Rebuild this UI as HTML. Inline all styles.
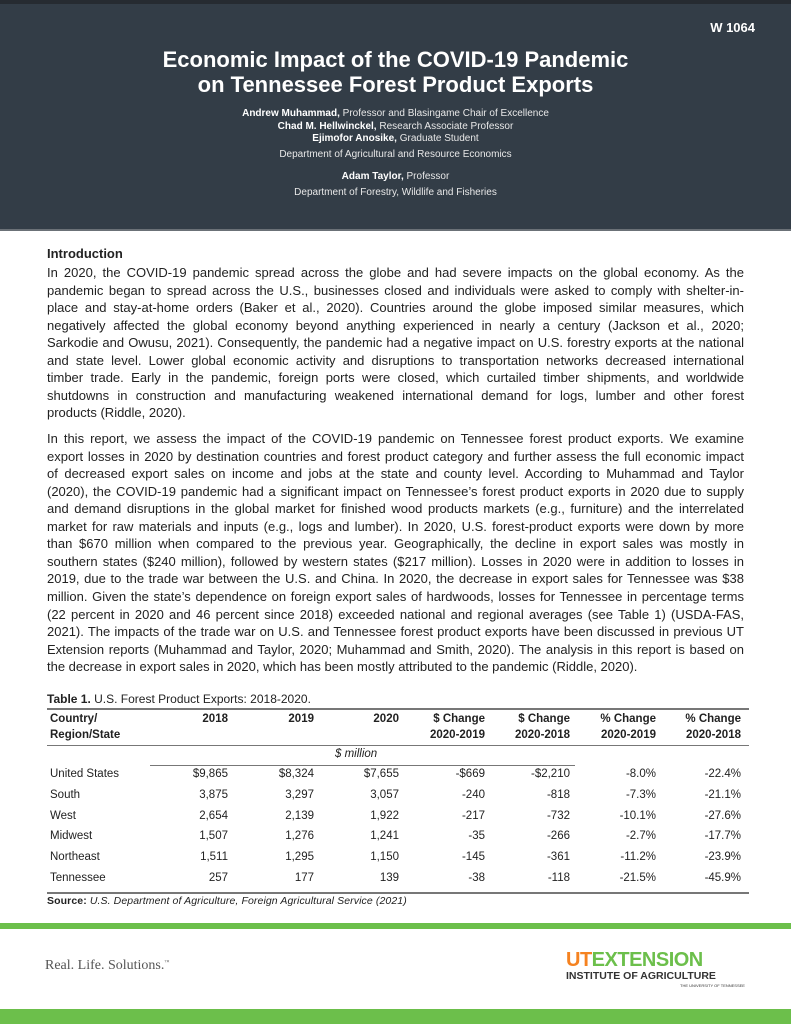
<!DOCTYPE html>
<html><head><meta charset="utf-8"><style>
*{margin:0;padding:0;box-sizing:border-box}
body{width:791px;height:1024px;position:relative;background:#fff;font-family:"Liberation Sans",sans-serif;color:#222;overflow:hidden}
.hdr{position:absolute;left:0;top:0;width:791px;height:231px;background:#333d47;border-top:4px solid #262b31;border-bottom:2px solid #6b7177}
.c{position:absolute;left:0;width:791px;text-align:center;color:#fff;white-space:nowrap}
.l{position:absolute;left:47px;white-space:nowrap;font-size:13px;letter-spacing:0;color:#222}
.j{width:697px;text-align:justify;text-align-last:justify}
.t{position:absolute;font-size:11.5px;white-space:nowrap;color:#222}
.r{text-align:right}
.rule{position:absolute;background:#777}
</style></head><body>
<div class="hdr"></div>
<div class="c" style="top:20px;left:auto;right:36px;width:auto;font-size:13px;font-weight:bold">W 1064</div>
<div class="c" style="top:47px;font-size:22px;font-weight:bold;line-height:25px">Economic Impact of the COVID-19 Pandemic<br>on Tennessee Forest Product Exports</div>
<div class="c" style="top:108px;font-size:10px;line-height:12.7px;color:#e8e8e8"><b style="color:#fff">Andrew Muhammad,</b> Professor and Blasingame Chair of Excellence<br><b style="color:#fff">Chad M. Hellwinckel,</b> Research Associate Professor<br><b style="color:#fff">Ejimofor Anosike,</b> Graduate Student</div>
<div class="c" style="top:149px;font-size:10px;color:#e8e8e8">Department of Agricultural and Resource Economics</div>
<div class="c" style="top:171px;font-size:10px;color:#e8e8e8"><b style="color:#fff">Adam Taylor,</b> Professor</div>
<div class="c" style="top:187px;font-size:10px;color:#e8e8e8">Department of Forestry, Wildlife and Fisheries</div>

<div class="l" style="top:246px;font-weight:bold">Introduction</div>
<div id="p1"></div>
<div id="p2"></div>

<div class="l" style="top:692px;font-size:12px"><b>Table 1.</b> U.S. Forest Product Exports: 2018-2020.</div>
<div class="rule" style="left:47px;top:708px;width:702px;height:1.5px"></div>
<div class="rule" style="left:47px;top:745px;width:702px;height:1px"></div>
<div class="rule" style="left:150px;top:765px;width:425px;height:1px"></div>
<div class="rule" style="left:47px;top:892px;width:702px;height:1.5px"></div>
<div class="t" style="left:50px;top:711px;font-weight:bold;line-height:16px">Country/<br>Region/State</div>
<div id="th"></div>
<div class="t" style="left:335px;top:748px;font-style:italic">$ million</div>
<div id="tb"></div>
<div class="l" style="top:895px;font-size:10.5px;letter-spacing:0.1px"><b>Source:</b> <i>U.S. Department of Agriculture, Foreign Agricultural Service (2021)</i></div>

<div style="position:absolute;left:0;top:923px;width:791px;height:6px;background:#6cbf4b"></div>
<div style="position:absolute;left:45px;top:958px;font-family:'Liberation Serif',serif;font-size:14px;color:#555">Real. Life. Solutions.<sup style="font-size:5px">™</sup></div>
<div style="position:absolute;left:566px;top:950px;font-size:20px;font-weight:bold;letter-spacing:-0.5px;line-height:20px"><span style="color:#f58220">UT</span><span style="color:#6cbf4b">EXTENSION</span></div>
<div style="position:absolute;left:566px;top:970px;font-size:10.5px;font-weight:bold;color:#333">INSTITUTE OF AGRICULTURE</div>
<div style="position:absolute;left:680px;top:983px;font-size:4px;color:#333">THE UNIVERSITY OF TENNESSEE</div>
<div style="position:absolute;left:0;top:1009px;width:791px;height:15px;background:#6cbf4b"></div>
<script>
function para(id,top,lines){var s="";lines.forEach(function(t,i){var last=i==lines.length-1;s+='<div class="l'+(last?'':' j')+'" style="top:'+(top+i*17.55)+'px">'+t+'</div>';});document.getElementById(id).outerHTML=s;}
para("p1",265,["In 2020, the COVID-19 pandemic spread across the globe and had severe impacts on the global economy. As the",
"pandemic began to spread across the U.S., businesses closed and individuals were asked to comply with shelter-in-",
"place and stay-at-home orders (Baker et al., 2020). Countries around the globe imposed similar measures, which",
"negatively affected the global economy beyond anything experienced in nearly a century (Jackson et al., 2020;",
"Sarkodie and Owusu, 2021). Consequently, the pandemic had a negative impact on U.S. forestry exports at the national",
"and state level. Lower global economic activity and disruptions to transportation networks decreased international",
"timber trade. Early in the pandemic, foreign ports were closed, which curtailed timber shipments, and worldwide",
"shutdowns in construction and manufacturing weakened international demand for logs, lumber and other forest",
"products (Riddle, 2020)."]);
para("p2",431,["In this report, we assess the impact of the COVID-19 pandemic on Tennessee forest product exports. We examine",
"export losses in 2020 by destination countries and forest product category and further assess the full economic impact",
"of decreased export sales on income and jobs at the state and county level. According to Muhammad and Taylor",
"(2020), the COVID-19 pandemic had a significant impact on Tennessee’s forest product exports in 2020 due to supply",
"and demand disruptions in the global market for finished wood products markets (e.g., furniture) and the interrelated",
"market for raw materials and inputs (e.g., logs and lumber). In 2020, U.S. forest-product exports were down by more",
"than $670 million when compared to the previous year. Geographically, the decline in export sales was mostly in",
"southern states ($240 million), followed by western states ($217 million). Losses in 2020 were in addition to losses in",
"2019, due to the trade war between the U.S. and China. In 2020, the decrease in export sales for Tennessee was $38",
"million. Given the state’s dependence on foreign export sales of hardwoods, losses for Tennessee in percentage terms",
"(22 percent in 2020 and 46 percent since 2018) exceeded national and regional averages (see Table 1) (USDA-FAS,",
"2021). The impacts of the trade war on U.S. and Tennessee forest product exports have been discussed in previous UT",
"Extension reports (Muhammad and Taylor, 2020; Muhammad and Smith, 2020). The analysis in this report is based on",
"the decrease in export sales in 2020, which has been mostly attributed to the pandemic (Riddle, 2020)."]);
var R=[228,314,399,485,570,656,741];
var H=[["2018",""],["2019",""],["2020",""],["$ Change","2020-2019"],["$ Change","2020-2018"],["% Change","2020-2019"],["% Change","2020-2018"]];
var s="";
H.forEach(function(h,i){s+='<div class="t r" style="right:'+(791-R[i])+'px;top:711px;font-weight:bold;line-height:16px">'+h[0]+'<br>'+h[1]+'</div>';});
document.getElementById("th").outerHTML=s;
var D=[["United States","$9,865","$8,324","$7,655","-$669","-$2,210","-8.0%","-22.4%"],
["South","3,875","3,297","3,057","-240","-818","-7.3%","-21.1%"],
["West","2,654","2,139","1,922","-217","-732","-10.1%","-27.6%"],
["Midwest","1,507","1,276","1,241","-35","-266","-2.7%","-17.7%"],
["Northeast","1,511","1,295","1,150","-145","-361","-11.2%","-23.9%"],
["Tennessee","257","177","139","-38","-118","-21.5%","-45.9%"]];
s="";
D.forEach(function(r,j){var y=768+j*20.8;s+='<div class="t" style="left:50px;top:'+y+'px">'+r[0]+'</div>';
for(var i=1;i<8;i++)s+='<div class="t r" style="right:'+(791-R[i-1])+'px;top:'+y+'px">'+r[i]+'</div>';});
document.getElementById("tb").outerHTML=s;
</script>
</body></html>
